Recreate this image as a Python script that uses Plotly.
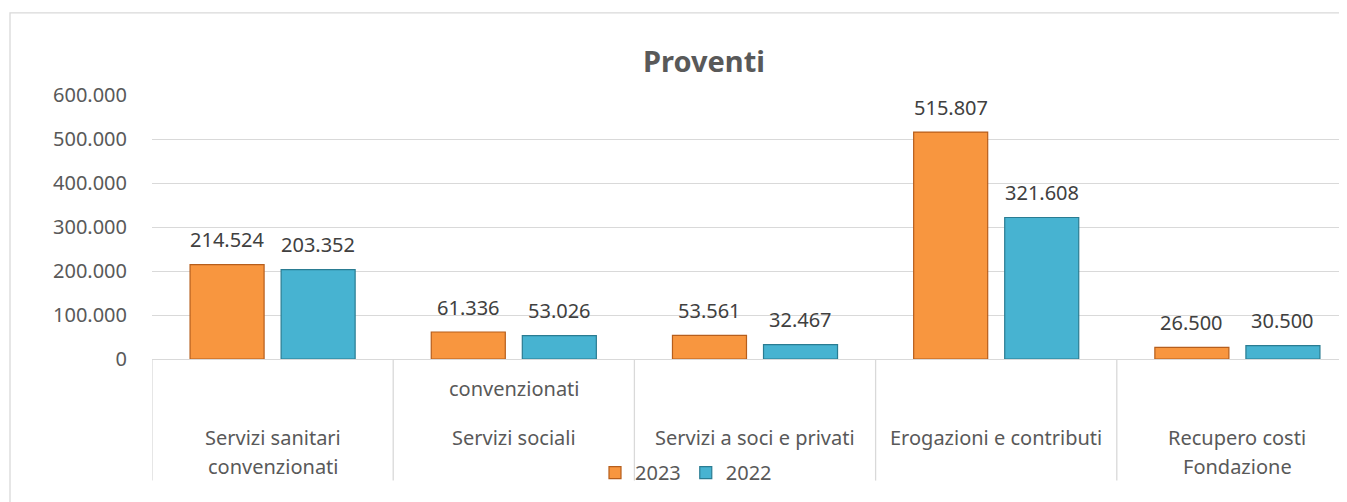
import plotly.graph_objects as go

# Data
categories = ["Servizi sanitari convenzionati", "Servizi sociali",
              "Servizi a soci e privati", "Erogazioni e contributi",
              "Recupero costi Fondazione"]
values_2023 = [214524, 61336, 53561, 515807, 26500]
values_2022 = [203352, 53026, 32467, 321608, 30500]

# category label lines (as they appear under the axis)
label_above = ["", "convenzionati", "", "", ""]
label_main = ["Servizi sanitari", "Servizi sociali", "Servizi a soci e privati",
              "Erogazioni e contributi", "Recupero costi"]
label_second = ["convenzionati", "", "", "", "Fondazione"]

y_ticks = [0, 100000, 200000, 300000, 400000, 500000, 600000]

FONT = "Noto Sans"
TXT = "#595959"
GRID = "#D9D9D9"

def it_num(v):
    return f"{v:,}".replace(",", ".")

# page body has an 8px margin, so work in screen px and subtract it
OFF = 8
W, H = 1347 - OFF, 502 - OFF
AXIS_Y = 358.6 - OFF          # y of the zero line
L, R, T = 152 - OFF, 0, 95 - OFF
B = H - AXIS_Y
plot_h = H - T - B
plot_w = W - L - R
cat_w = 241.2

def py(ypx):
    # screen y (reference px) -> paper coordinate
    return ((AXIS_Y) - (ypx - OFF)) / plot_h

def px(xpx):
    return ((xpx - OFF) - L) / plot_w

fig = go.Figure()
fig.add_trace(go.Bar(x=categories, y=values_2023, name="2023",
                     marker=dict(color="#F8963F", line=dict(color="#B65E1C", width=1.2))))
fig.add_trace(go.Bar(x=categories, y=values_2022, name="2022",
                     marker=dict(color="#47B3D1", line=dict(color="#2A7C92", width=1.2))))

annotations = []
# value labels above the bars
for vals, sh in [(values_2023, -45.5), (values_2022, 45.5)]:
    for c, v in zip(categories, vals):
        annotations.append(dict(x=c, y=v, xref="x", yref="y", text=it_num(v),
                                showarrow=False, xshift=sh, yshift=25,
                                yanchor="middle",
                                font=dict(family=FONT, size=20, color="#404040")))

# category labels below the axis
for rows, ypx in [(label_above, 388), (label_main, 437), (label_second, 466)]:
    for c, t in zip(categories, rows):
        if t:
            annotations.append(dict(x=c, y=py(ypx), xref="x", yref="paper", text=t,
                                    showarrow=False, yanchor="middle",
                                    font=dict(family=FONT, size=20, color=TXT)))

shapes = []
# category dividers under the axis
for k in range(len(categories)):
    shapes.append(dict(type="line", xref="x", yref="paper", x0=k - 0.5, x1=k - 0.5,
                       y0=0, y1=py(480),
                       line=dict(color=GRID, width=1.3)))
# chart border
shapes.append(dict(type="rect", xref="paper", yref="paper",
                   x0=px(10), x1=1.05, y0=-0.7, y1=py(13),
                   line=dict(color=GRID, width=1.3)))

fig.update_layout(
    width=W, height=H,
    margin=dict(l=L, r=R, t=T, b=B),
    paper_bgcolor="white", plot_bgcolor="white",
    separators=",.",
    barmode="group", bargap=0.245, bargroupgap=0.187,
    title=dict(text="<b>Proventi</b>", x=px(704), xref="paper",
               xanchor="center", y=1 - (62 - OFF) / H, yanchor="middle",
               font=dict(family=FONT, size=29, color=TXT)),
    font=dict(family=FONT, size=20, color=TXT),
    legend=dict(orientation="h", x=px(595), xanchor="left",
                y=py(472), yanchor="middle",
                font=dict(family=FONT, size=20, color=TXT),
                itemwidth=30, bgcolor="rgba(0,0,0,0)"),
    annotations=annotations,
    shapes=shapes,
)
fig.update_xaxes(type="category", range=[-0.5, -0.5 + plot_w / cat_w],
                 showticklabels=False, showgrid=False,
                 showline=True, linecolor=GRID, linewidth=1.3)
fig.update_yaxes(range=[0, 600000], tickvals=y_ticks, tickformat=",",
                 showgrid=True, gridcolor=GRID, gridwidth=1.3,
                 zeroline=False, ticklabelstandoff=24,
                 tickfont=dict(family=FONT, size=20, color=TXT))

fig.write_html("out.html")
